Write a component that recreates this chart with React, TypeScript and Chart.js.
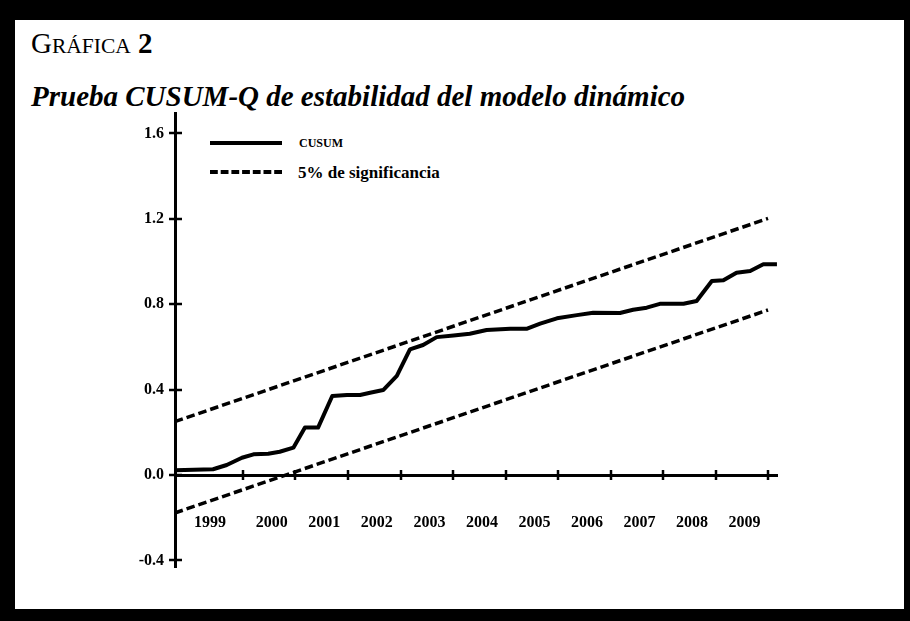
import React, { useEffect, useRef } from 'react';
import { Chart, registerables } from 'chart.js';

Chart.register(...registerables);

// ---- data ----
const cusumYears = [
  1998.7, 1999.43, 1999.69, 1999.98, 2000.2, 2000.48, 2000.7, 2000.96,
  2001.18, 2001.43, 2001.7, 2001.98, 2002.23, 2002.42, 2002.67, 2002.93,
  2003.18, 2003.43, 2003.69, 2004.01, 2004.32, 2004.64, 2005.09, 2005.4,
  2005.66, 2005.98, 2006.36, 2006.67, 2007.18, 2007.43, 2007.69, 2007.94,
  2008.39, 2008.64, 2008.93, 2009.15, 2009.4, 2009.66, 2009.91, 2010.17,
];
const cusumValues = [
  0.022, 0.027, 0.047, 0.081, 0.097, 0.1, 0.109, 0.128,
  0.222, 0.222, 0.37, 0.375, 0.375, 0.385, 0.398, 0.464,
  0.589, 0.609, 0.646, 0.654, 0.662, 0.679, 0.685, 0.685,
  0.709, 0.734, 0.749, 0.76, 0.759, 0.774, 0.784, 0.802,
  0.802, 0.815, 0.909, 0.912, 0.948, 0.956, 0.987, 0.987,
];
const bandYears = [1998.7, 2010.0];
const upperBand = [0.25, 1.202];
const lowerBand = [-0.178, 0.773];

const yTickValues = [-0.4, 0, 0.4, 0.8, 1.2, 1.6];
const xTickYears = [2000, 2001, 2002, 2003, 2004, 2005, 2006, 2007, 2008, 2009, 2010];
const xLabelYears = [1999, 2000, 2001, 2002, 2003, 2004, 2005, 2006, 2007, 2008, 2009];
const xLabelPositions = [1999.37, 2000.55, 2001.55, 2002.55, 2003.55, 2004.55, 2005.55, 2006.55, 2007.55, 2008.55, 2009.55];

const seriesLabels = ['CUSUM', '5% de significancia'];
const titleWord = 'GRÁFICA';
const titleNumber = '2';
const subtitleText = 'Prueba CUSUM-Q de estabilidad del modelo dinámico';

const FONT = "'Liberation Serif', 'Times New Roman', serif";

const crossTicks = {
  id: 'crossTicks',
  afterDraw(chart: any) {
    const { ctx, scales } = chart;
    const x = scales.x;
    const y = scales.y;
    const axisX = chart.chartArea.left;
    const y0 = y.getPixelForValue(0);
    ctx.save();
    ctx.strokeStyle = '#000';
    ctx.lineWidth = 2.5;
    y.ticks.forEach((t: any) => {
      const py = Math.round(y.getPixelForValue(t.value));
      ctx.beginPath();
      ctx.moveTo(axisX - 6, py);
      ctx.lineTo(axisX + 7, py);
      ctx.stroke();
    });
    x.ticks.forEach((t: any) => {
      const px = Math.round(x.getPixelForValue(t.value));
      ctx.beginPath();
      ctx.moveTo(px, y0 - 5);
      ctx.lineTo(px, y0 + 5);
      ctx.stroke();
    });
    ctx.restore();
  },
};

export default function App() {
  const canvasRef = useRef<HTMLCanvasElement | null>(null);

  useEffect(() => {
    const canvas = canvasRef.current;
    if (!canvas) return;
    Chart.defaults.font.family = FONT;
    const chart = new Chart(canvas, {
      type: 'line',
      data: {
        datasets: [
          {
            label: seriesLabels[0],
            data: cusumYears.map((x, i) => ({ x, y: cusumValues[i] })),
            borderColor: '#000',
            borderWidth: 4,
            pointRadius: 0,
            tension: 0,
            borderJoinStyle: 'round',
            fill: false,
          },
          {
            label: seriesLabels[1],
            data: bandYears.map((x, i) => ({ x, y: upperBand[i] })),
            borderColor: '#000',
            borderWidth: 3.5,
            borderDash: [8.5, 4],
            pointRadius: 0,
            fill: false,
          },
          {
            label: seriesLabels[1] + ' (inferior)',
            data: bandYears.map((x, i) => ({ x, y: lowerBand[i] })),
            borderColor: '#000',
            borderWidth: 3.5,
            borderDash: [8.5, 4],
            pointRadius: 0,
            fill: false,
          },
        ],
      },
      options: {
        responsive: false,
        animation: false,
        events: [],
        layout: { padding: { left: 115, top: 113, right: 133, bottom: 54 } },
        plugins: {
          legend: { display: false },
          tooltip: { enabled: false },
          title: { display: false },
        },
        scales: {
          x: {
            type: 'linear',
            position: { y: 0 } as any,
            min: 1998.705,
            max: 2010.171,
            afterBuildTicks: (s: any) => {
              s.ticks = xTickYears.map((v) => ({ value: v }));
            },
            grid: { display: false, drawTicks: false },
            border: { display: true, width: 3, color: '#000' },
            ticks: { display: false },
          },
          x2: {
            type: 'linear',
            axis: 'x',
            position: { y: 0 } as any,
            min: 1998.705,
            max: 2010.171,
            afterBuildTicks: (s: any) => {
              s.ticks = xLabelPositions.map((v) => ({ value: v }));
            },
            grid: { display: false, drawTicks: false },
            border: { display: false },
            ticks: {
              autoSkip: false,
              maxRotation: 0,
              minRotation: 0,
              padding: 38,
              color: '#000',
              font: { family: FONT, size: 16, weight: 'bold' },
              callback: (_v: any, i: number) => String(xLabelYears[i]),
            },
          },
          y: {
            type: 'linear',
            position: 'left',
            min: -0.431,
            max: 1.696,
            afterFit: (s: any) => {
              s.width = 60;
            },
            afterBuildTicks: (s: any) => {
              s.ticks = yTickValues.map((v) => ({ value: v }));
            },
            grid: { display: false, drawTicks: false },
            border: { display: true, width: 3, color: '#000' },
            ticks: {
              padding: 11,
              color: '#000',
              font: { family: FONT, size: 16, weight: 'bold' },
              callback: (v: any) => Number(v).toFixed(1),
            },
          },
        },
      } as any,
      plugins: [crossTicks],
    });
    return () => chart.destroy();
  }, []);

  const abs = (s: React.CSSProperties): React.CSSProperties => ({ position: 'absolute', margin: 0, ...s });

  return (
    <div style={{ position: 'fixed', left: 0, top: 0, width: 910, height: 621, background: '#000', overflow: 'hidden' }}>
      <div style={abs({ left: 15, top: 20, width: 889, height: 589, background: '#fff' })} />
      <div
        style={abs({
          left: 31,
          top: 29,
          fontFamily: FONT,
          fontSize: 29,
          lineHeight: '29px',
          color: '#000',
          whiteSpace: 'nowrap',
        })}
      >
        {titleWord.slice(0, 1)}
        <span style={{ fontSize: 21.5 }}>{titleWord.slice(1)}</span>{' '}
        <b>{titleNumber}</b>
      </div>
      <div
        style={abs({
          left: 31,
          top: 82,
          fontFamily: FONT,
          fontSize: 29,
          lineHeight: '29px',
          fontStyle: 'italic',
          fontWeight: 'bold',
          color: '#000',
          whiteSpace: 'nowrap',
        })}
      >
        {subtitleText}
      </div>
      {/* legend */}
      <svg style={abs({ left: 210, top: 139, overflow: 'visible' })} width={72} height={8}>
        <line x1={0} y1={4} x2={72} y2={4} stroke="#000" strokeWidth={4} />
      </svg>
      <div
        style={abs({
          left: 299,
          top: 133,
          height: 20,
          lineHeight: '20px',
          fontFamily: FONT,
          fontSize: 12,
          fontWeight: 'bold',
          color: '#000',
          whiteSpace: 'nowrap',
        })}
      >
        {seriesLabels[0]}
      </div>
      <svg style={abs({ left: 210, top: 168, overflow: 'visible' })} width={72} height={8}>
        <line x1={0} y1={4} x2={72} y2={4} stroke="#000" strokeWidth={4} strokeDasharray="7.8 2.9" />
      </svg>
      <div
        style={abs({
          left: 298,
          top: 163,
          height: 20,
          lineHeight: '20px',
          fontFamily: FONT,
          fontSize: 17,
          fontWeight: 'bold',
          color: '#000',
          whiteSpace: 'nowrap',
        })}
      >
        {seriesLabels[1]}
      </div>
      <canvas ref={canvasRef} width={910} height={621} style={abs({ left: 0, top: 0 })} />
    </div>
  );
}
